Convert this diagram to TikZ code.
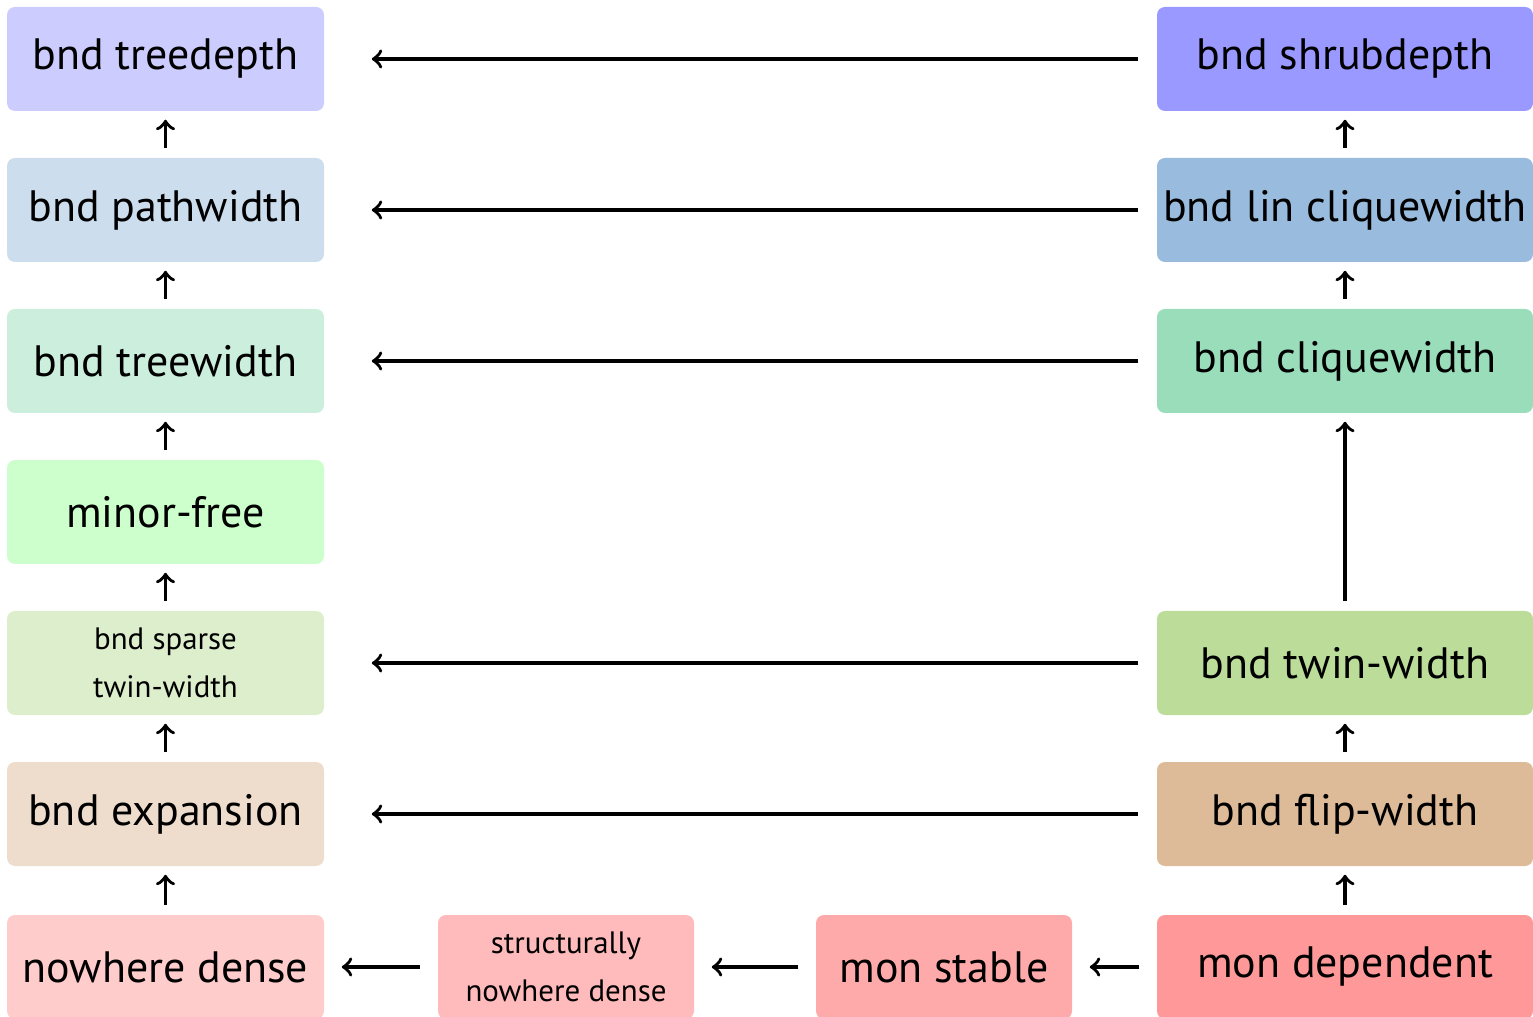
\documentclass[tikz,border=0pt]{standalone}
\usepackage{fontspec}
\setmainfont{PT Sans}

\definecolor{tdA}{HTML}{CCCCFF}
\definecolor{tdB}{HTML}{9999FF}
\definecolor{pwA}{HTML}{CCDDEE}
\definecolor{pwB}{HTML}{99BBDD}
\definecolor{twA}{HTML}{CCEEDD}
\definecolor{twB}{HTML}{99DDBB}
\definecolor{mfA}{HTML}{CCFFCC}
\definecolor{stA}{HTML}{DDEECC}
\definecolor{stB}{HTML}{BBDD99}
\definecolor{exA}{HTML}{EEDDCC}
\definecolor{exB}{HTML}{DDBB99}
\definecolor{ndA}{HTML}{FFCCCC}
\definecolor{ndB}{HTML}{FFBBBB}
\definecolor{ndC}{HTML}{FFAAAA}
\definecolor{ndD}{HTML}{FF9999}

\tikzset{
  cls/.style={rounded corners=0.08cm, inner sep=0pt, minimum height=1.04cm,
    align=center, font=\fontsize{12.5}{14}\selectfont},
  lcls/.style={cls, minimum width=3.17cm},
  rcls/.style={cls, minimum width=3.76cm},
  mcls/.style={cls, minimum width=2.56cm},
  smalltext/.style={font=\fontsize{8.8}{13.7}\selectfont},
  up/.style={->, shorten >=0.07cm, shorten <=0.08cm},
  side/.style={->, shorten >=0.16cm, shorten <=0.16cm},
  across/.style={->, shorten >=0.46cm, shorten <=0.17cm}
}

\begin{document}
\begin{tikzpicture}[line width=1pt]
\useasboundingbox (0,0) rectangle (15.33,-10.17);

% sparse side
\foreach \n / \y / \c / \t in {1/-0.59/tdA/bnd treedepth, 2/-2.10/pwA/bnd pathwidth,
    3/-3.61/twA/bnd treewidth, 4/-5.12/mfA/minor-free, 6/-8.14/exA/bnd expansion,
    7/-9.67/ndA/nowhere dense}
  \node[lcls, fill=\c] (l\n) at (1.655,\y) {\t};
\node[lcls, fill=stA, smalltext] (l5) at (1.655,-6.63) {bnd sparse\\twin-width};

% dense side
\foreach \n / \y / \c / \t in {1/-0.59/tdB/bnd shrubdepth, 2/-2.10/pwB/bnd lin cliquewidth,
    3/-3.61/twB/bnd cliquewidth, 5/-6.63/stB/bnd twin-width, 6/-8.14/exB/bnd flip-width,
    7/-9.67/ndD/mon dependent}
  \node[rcls, fill=\c] (r\n) at (13.45,\y) {\t};

% bottom row in between
\node[mcls, fill=ndB, smalltext] (m1) at (5.66,-9.67) {structurally\\nowhere dense};
\node[mcls, fill=ndC] (m2) at (9.44,-9.67) {mon stable};

% inclusions
\foreach \a / \b in {l2/l1, l3/l2, l4/l3, l5/l4, l6/l5, l7/l6, r2/r1, r3/r2, r5/r3, r6/r5, r7/r6}
  \draw[up] (\a) -- (\b);
\foreach \n in {1,2,3,5,6}
  \draw[across] (r\n) -- (l\n);
\draw[side] (r7) -- (m2);
\draw[side] (m2) -- (m1);
\draw[side] (m1) -- (l7);
\end{tikzpicture}
\end{document}
